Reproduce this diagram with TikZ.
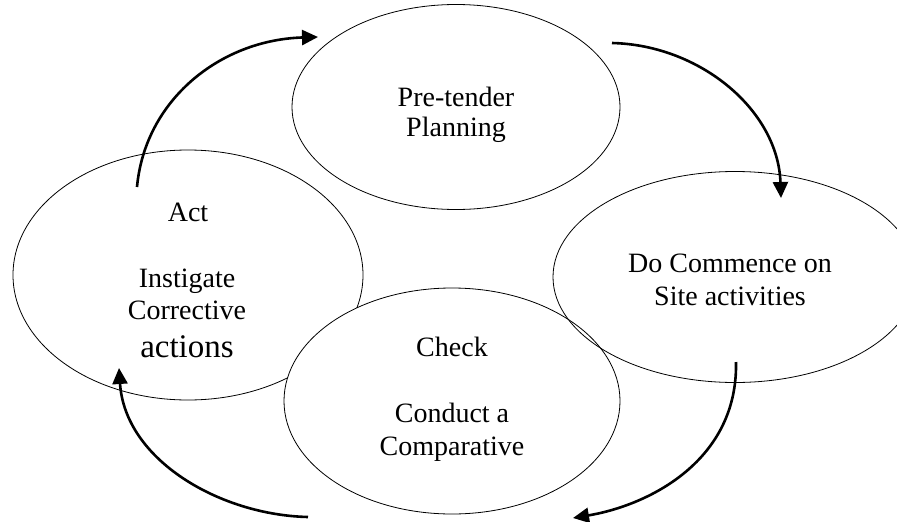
\documentclass[tikz,border=0pt]{standalone}
\usepackage{fontspec}
\setmainfont{Liberation Serif}
\usetikzlibrary{shapes.geometric,arrows.meta}
\begin{document}
\begin{tikzpicture}[x=1pt,y=-1pt,
  oval/.style={draw=black,line width=0.8pt,ellipse,inner sep=0pt},
  lbl/.style={anchor=base,inner sep=0pt,font=\fontsize{28}{32}\selectfont},
  biglbl/.style={anchor=base,inner sep=0pt,font=\fontsize{33}{38}\selectfont},
  flow/.style={line width=2.6pt,-{Triangle[length=16pt,width=15pt]}}]
\useasboundingbox (0,0) rectangle (897,522);
\clip (0,0) rectangle (897,522);
% ellipses
\node[oval,fill=white,minimum width=350pt,minimum height=250pt] (act) at (188,275) {};
\node[oval,fill=white,minimum width=336pt,minimum height=226pt] (check) at (452,401) {};
\node[oval,minimum width=328pt,minimum height=205pt] (plan) at (456,107) {};
\node[oval,minimum width=364pt,minimum height=211pt] (do) at (735,277) {};
% texts
\node[lbl] (p1) at (456,106) {Pre-tender};
\node[lbl] (p2) at (456,136) {Planning};
\node[lbl] (d1) at (730,272) {Do Commence on};
\node[lbl] (d2) at (730,305) {Site activities};
\node[lbl] (a1) at (188,221) {Act};
\node[lbl] (a2) at (187,287) {Instigate};
\node[lbl] (a3) at (187,319) {Corrective};
\node[biglbl] (a4) at (187,357) {actions};
\node[lbl] (c1) at (452,356) {Check};
\node[lbl] (c2) at (452,422) {Conduct a};
\node[lbl] (c3) at (452,455) {Comparative};
% arrow ends
\coordinate (s1) at (137,187); \coordinate (e1) at (318,37);
\coordinate (s2) at (612,43);  \coordinate (e2) at (781,198);
\coordinate (s3) at (736,362); \coordinate (e3) at (573,518);
\coordinate (s4) at (308,517); \coordinate (e4) at (119,368);
\draw[flow] (s1) .. controls (145,100) and (220,40) .. (e1);
\draw[flow] (s2) .. controls (700,45) and (778,110) .. (e2);
\draw[flow] (s3) .. controls (738,460) and (650,505) .. (e3);
\draw[flow] (s4) .. controls (220,515) and (125,460) .. (e4);
\end{tikzpicture}
\end{document}
